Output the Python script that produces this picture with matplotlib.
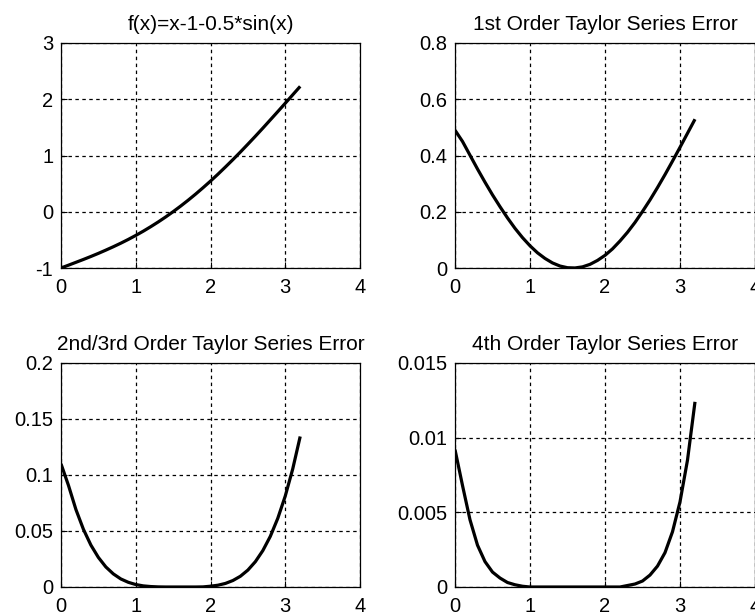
import matplotlib
matplotlib.use("Agg")
import matplotlib.pyplot as plt

plt.rcParams['font.family'] = ['Liberation Sans', 'DejaVu Sans']
plt.rcParams['lines.scale_dashes'] = False

# sample points (x), every 0.1
x = [0.0, 0.1, 0.2, 0.3, 0.4, 0.5, 0.6, 0.7, 0.8, 0.9, 1.0,
     1.1, 1.2, 1.3, 1.4, 1.5, 1.6, 1.7, 1.8, 1.9, 2.0,
     2.1, 2.2, 2.3, 2.4, 2.5, 2.6, 2.7, 2.8, 2.9, 3.0, 3.1, 3.2]

f_vals = [-1.0, -0.95, -0.899, -0.848, -0.795, -0.740, -0.682, -0.622, -0.559, -0.492, -0.421,
          -0.346, -0.266, -0.182, -0.093, 0.001, 0.100, 0.204, 0.313, 0.427, 0.545,
          0.668, 0.796, 0.927, 1.062, 1.201, 1.342, 1.486, 1.633, 1.780, 1.929, 2.079, 2.229]

err1 = [0.490, 0.450, 0.401, 0.352, 0.305, 0.260, 0.218, 0.178, 0.141, 0.108, 0.079,
        0.054, 0.034, 0.018, 0.007, 0.001, 0.0002, 0.004, 0.013, 0.027, 0.045,
        0.068, 0.096, 0.127, 0.162, 0.201, 0.242, 0.286, 0.332, 0.380, 0.429, 0.479, 0.529]

err23 = [0.110, 0.0907, 0.0691, 0.0515, 0.0374, 0.0264, 0.0179, 0.0117, 0.0072, 0.0042, 0.0022,
         0.0010, 0.0004, 0.0001, 0.0, 0.0, 0.0, 0.0, 0.0, 0.0001, 0.0007,
         0.0016, 0.0032, 0.0058, 0.0096, 0.0151, 0.0226, 0.0325, 0.0452, 0.0613, 0.0812, 0.1054, 0.1344]

err4 = [0.0092, 0.0068, 0.0045, 0.0028, 0.0017, 0.0010, 0.0006, 0.0003, 0.00015, 0.00005, 0.0,
        0.0, 0.0, 0.0, 0.0, 0.0, 0.0, 0.0, 0.0, 0.0, 0.0,
        0.0, 0.0, 0.0001, 0.0002, 0.0004, 0.0008, 0.0014, 0.0023, 0.0037, 0.0057, 0.0085, 0.0124]

titles = ['f(x)=x-1-0.5*sin(x)', '1st Order Taylor Series Error',
          '2nd/3rd Order Taylor Series Error', '4th Order Taylor Series Error']
series = [f_vals, err1, err23, err4]
ylims = [(-1, 3), (0, 0.8), (0, 0.2), (0, 0.015)]
yticks = [[-1, 0, 1, 2, 3], [0, 0.2, 0.4, 0.6, 0.8],
          [0, 0.05, 0.1, 0.15, 0.2], [0, 0.005, 0.01, 0.015]]
ylabels = [['-1', '0', '1', '2', '3'], ['0', '0.2', '0.4', '0.6', '0.8'],
           ['0', '0.05', '0.1', '0.15', '0.2'], ['0', '0.005', '0.01', '0.015']]

fig = plt.figure(figsize=(7.55, 6.15), dpi=100)
W, H = 755.0, 615.0
boxes = [(61, 43, 360, 268), (455, 43, 755, 268),
         (61, 363, 360, 587), (455, 363, 755, 587)]

for i in range(4):
    l, t, r, b = boxes[i]
    ax = fig.add_axes([l / W, 1 - b / H, (r - l) / W, (b - t) / H])
    ax.plot(x, series[i], color='black', lw=2.3, solid_capstyle='butt')
    ax.set_xlim(0, 4)
    ax.set_ylim(*ylims[i])
    ax.set_xticks([0, 1, 2, 3, 4])
    ax.set_xticklabels(['0', '1', '2', '3', '4'])
    ax.set_yticks(yticks[i])
    ax.set_yticklabels(ylabels[i])
    ax.grid(True, color='black', lw=0.9, linestyle=(0, (2.5, 2.5)))
    ax.tick_params(direction='in', length=4, width=0.8, labelsize=14.5, colors='black')
    ax.tick_params(axis='x', pad=7.5)
    ax.tick_params(axis='y', pad=5.5)
    for s in ax.spines.values():
        s.set_linewidth(0.9)
        s.set_color('black')
    ax.set_title(titles[i], fontsize=15, pad=9)

fig.savefig('out.png', dpi=100)
